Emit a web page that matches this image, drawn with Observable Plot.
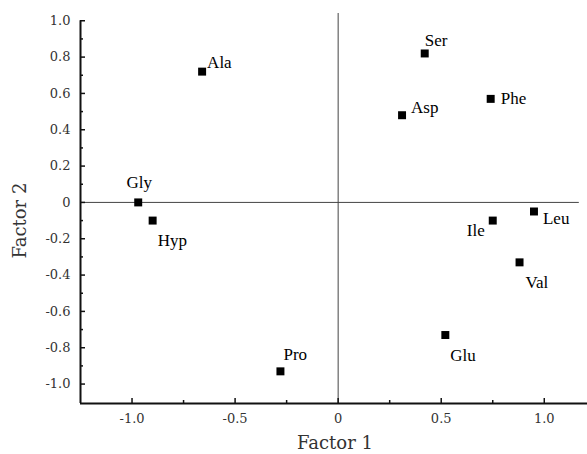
<!DOCTYPE html>
<html><head><meta charset="utf-8">
<script src="https://cdn.jsdelivr.net/npm/d3@7"></script>
<script src="https://cdn.jsdelivr.net/npm/@observablehq/plot@0.6"></script>
<style>body{margin:0;background:#fff} #chart svg{display:block}</style>
</head><body><div id="chart"></div>
<script>
const names   = ["Ala", "Gly", "Hyp", "Pro", "Ser", "Asp", "Phe", "Leu", "Ile", "Val", "Glu"];
const factor1 = [-0.66, -0.97, -0.90, -0.28, 0.42, 0.31, 0.74, 0.95, 0.75, 0.88, 0.52];
const factor2 = [0.72, 0.00, -0.10, -0.93, 0.82, 0.48, 0.57, -0.05, -0.10, -0.33, -0.73];
const xTicks = [-1.0, -0.5, 0, 0.5, 1.0];
const xMinor = [-0.75, -0.25, 0.25, 0.75];
const yTicks = [-1.0, -0.8, -0.6, -0.4, -0.2, 0, 0.2, 0.4, 0.6, 0.8, 1.0];
const yMinor = [-0.9, -0.7, -0.5, -0.3, -0.1, 0.1, 0.3, 0.5, 0.7, 0.9];
const xTitle = "Factor 1";
const yTitle = "Factor 2";

const data = names.map((n, i) => ({name: n, x: factor1[i], y: factor2[i]}));

// label placement (style, not data): [dx, dy, anchor]
const place = {
  Ala: [5, -9, "start"], Gly: [1, -20, "middle"], Hyp: [5, 20, "start"],
  Pro: [3, -17, "start"], Ser: [0, -13, "start"], Asp: [9, -8, "start"],
  Phe: [10, 0, "start"], Leu: [9, 7, "start"], Ile: [-8, 10, "end"],
  Val: [6, 20, "start"], Glu: [5, 21, "start"]
};

const X0 = -1.25, X1 = 1.2, Y0 = -1.107, Y1 = 1.04;
const fmt = d => d === 0 ? "0" : d.toFixed(1);
const tickFont = {fontFamily: "DejaVu Serif", fontSize: 13};

const labelMarks = data.map(d => {
  const [dx, dy, a] = place[d.name];
  return Plot.text([d], {x: "x", y: "y", text: "name", dx, dy, textAnchor: a,
    lineAnchor: "middle", fontFamily: "Liberation Serif", fontSize: 17, fill: "#000"});
});

const chart = Plot.plot({
  width: 587, height: 454,
  marginLeft: 80, marginRight: 2, marginTop: 13, marginBottom: 51,
  x: {domain: [X0, X1]},
  y: {domain: [Y0, Y1]},
  style: {background: "#fff", fontFamily: "Liberation Serif"},
  marks: [
    // zero lines
    Plot.ruleY([0], {x1: X0, x2: 1.17, stroke: "#444", strokeWidth: 1}),
    Plot.ruleX([0], {y1: Y0, y2: Y1, stroke: "#444", strokeWidth: 1}),
    // frame axes
    Plot.ruleX([X0], {y1: Y0, y2: 1.0, stroke: "#111", strokeWidth: 2}),
    Plot.ruleY([Y0], {x1: X0, x2: X1, stroke: "#111", strokeWidth: 2.2, insetRight: -3}),
    // ticks
    Plot.axisX(xTicks, {tickSize: -5, text: null, label: null, stroke: "#111", strokeWidth: 1.5}),
    Plot.axisX(xMinor, {tickSize: -3, text: null, label: null, stroke: "#111", strokeWidth: 1.5}),
    Plot.axisX(xTicks, {tickSize: 0, tickPadding: 10, label: null, tickFormat: fmt, fill: "#333", ...tickFont}),
    Plot.axisY(yTicks, {tickSize: -5, text: null, label: null, stroke: "#111", strokeWidth: 1.5}),
    Plot.axisY(yMinor, {tickSize: -3, text: null, label: null, stroke: "#111", strokeWidth: 1.5}),
    Plot.axisY(yTicks, {tickSize: 0, tickPadding: 10, label: null, tickFormat: fmt, fill: "#333", ...tickFont}),
    // titles
    Plot.text([xTitle], {frameAnchor: "bottom", dx: 2, dy: 40, lineAnchor: "middle",
      fontFamily: "DejaVu Serif", fontSize: 18, fill: "#333"}),
    Plot.text([yTitle], {x: () => X0, y: () => -0.1, dx: -60, rotate: -90, lineAnchor: "middle",
      fontFamily: "DejaVu Serif", fontSize: 18, fill: "#333"}),
    // points
    Plot.dot(data, {x: "x", y: "y", symbol: "square", r: 4.5, fill: "#000", stroke: "none"}),
    ...labelMarks
  ]
});
document.getElementById("chart").append(chart);
</script>
</body></html>
